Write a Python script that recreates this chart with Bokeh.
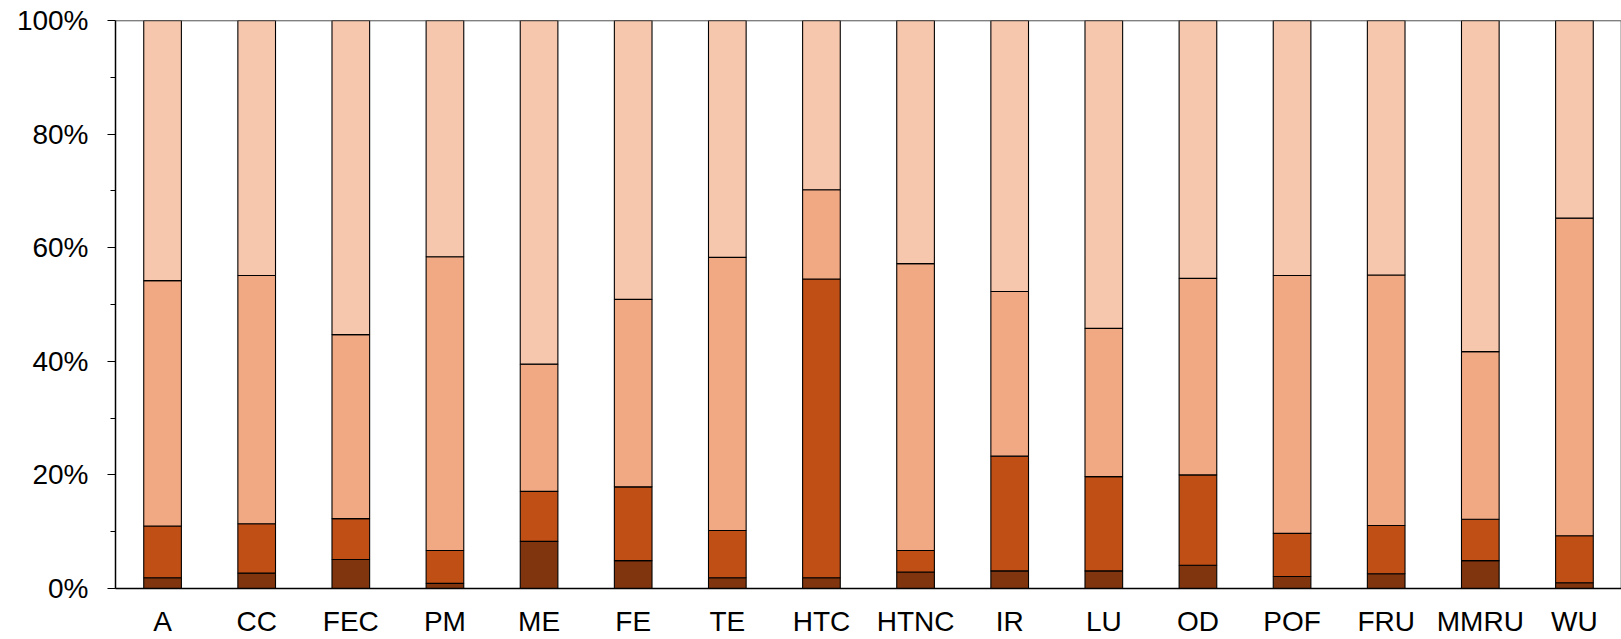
from bokeh.plotting import figure
from bokeh.models import FactorRange, Range1d, FixedTicker, PrintfTickFormatter, Span
from bokeh.embed import file_html
from bokeh.resources import INLINE

categories = ["A", "CC", "FEC", "PM", "ME", "FE", "TE", "HTC", "HTNC", "IR",
              "LU", "OD", "POF", "FRU", "MMRU", "WU"]

# stacked shares (%) from bottom to top
seg1 = [1.9, 2.7, 5.1, 0.9, 8.3, 4.9, 1.9, 1.9, 2.9, 3.1, 3.1, 4.1, 2.1, 2.6, 4.9, 1.0]
seg2 = [9.1, 8.7, 7.2, 5.8, 8.8, 13.0, 8.3, 52.6, 3.8, 20.2, 16.6, 15.9, 7.6, 8.5, 7.3, 8.3]
seg3 = [43.2, 43.7, 32.4, 51.7, 22.4, 33.0, 48.1, 15.7, 50.5, 29.0, 26.1, 34.6, 45.4, 44.1, 29.5, 55.9]
seg4 = [45.8, 44.9, 55.3, 41.6, 60.5, 49.1, 41.7, 29.8, 42.8, 47.7, 54.2, 45.4, 44.9, 44.8, 58.3, 34.8]

y_ticks = [0, 20, 40, 60, 80, 100]
y_minor = [10, 30, 50, 70, 90]

series = ["seg1", "seg2", "seg3", "seg4"]
colors = ["#80350E", "#C04F15", "#F1A983", "#F6C6AD"]

data = dict(cat=categories, seg1=seg1, seg2=seg2, seg3=seg3, seg4=seg4)

p = figure(x_range=FactorRange(*categories), y_range=Range1d(0, 100),
           width=1621, height=639, output_backend="svg", toolbar_location=None,
           title=None, min_border_left=115, min_border_right=0,
           min_border_top=20, min_border_bottom=50)

p.vbar_stack(series, x="cat", width=0.40, source=data, color=colors,
             line_color="black", line_width=1.1)

p.xgrid.visible = False
p.ygrid.visible = False
p.outline_line_color = "#c0c0c0"
p.outline_line_width = 1

top = Span(location=100, dimension="width", line_color="#404040", line_width=1.5)
p.add_layout(top)

p.yaxis.ticker = FixedTicker(ticks=y_ticks, minor_ticks=y_minor)
p.yaxis.formatter = PrintfTickFormatter(format="%d%%")
p.yaxis.major_tick_out = 8
p.yaxis.major_tick_in = 0
p.yaxis.minor_tick_out = 5
p.yaxis.minor_tick_in = 0
p.yaxis.major_label_standoff = 19

for ax in (p.xaxis, p.yaxis):
    ax.axis_line_color = "black"
    ax.axis_line_width = 1.5
    ax.major_tick_line_color = "black"
    ax.minor_tick_line_color = "black"
    ax.major_tick_line_width = 1.2
    ax.minor_tick_line_width = 1.2
    ax.major_label_text_font = "Liberation Sans"
    ax.major_label_text_font_size = "28px"
    ax.major_label_text_color = "black"

p.xaxis.major_tick_line_color = None
p.xaxis.major_tick_out = 0
p.xaxis.major_tick_in = 0
p.xaxis.major_label_standoff = 17

p.background_fill_color = "white"
p.border_fill_color = "white"

open("out.html", "w").write(file_html(p, INLINE))
